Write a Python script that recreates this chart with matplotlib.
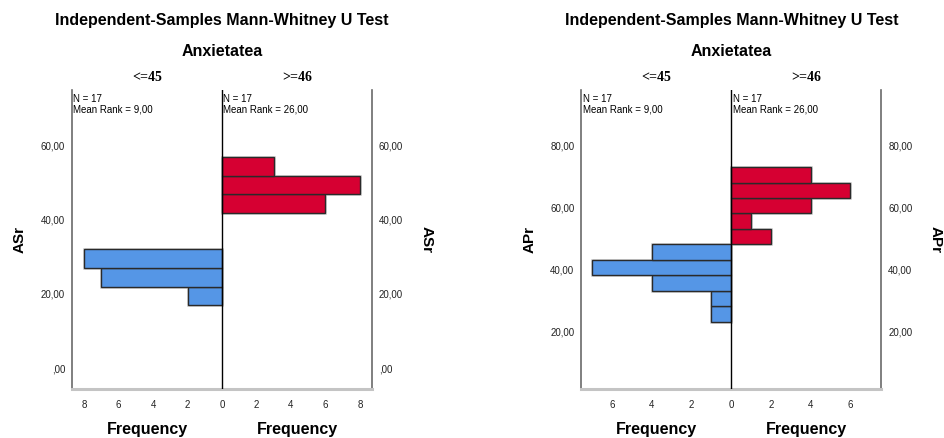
import matplotlib
matplotlib.use('Agg')
import matplotlib.pyplot as plt

# Bin edges (lower..upper) and counts for each group
as_low_edges = [16.9, 21.95, 26.95, 32.0]
as_low_counts = [2, 7, 8]
as_high_edges = [41.7, 46.8, 51.85, 56.9]
as_high_counts = [6, 8, 3]

ap_low_edges = [23, 28, 33, 38, 43, 48]
ap_low_counts = [1, 1, 4, 7, 4]
ap_high_edges = [48, 53, 58, 63, 68, 73]
ap_high_counts = [2, 1, 4, 6, 4]

groups = ['<=45', '>=46']
n_text = ['N = 17\nMean Rank = 9,00', 'N = 17\nMean Rank = 26,00']

as_yticks = [0, 20, 40, 60]
ap_yticks = [20, 40, 60, 80]

BLUE = '#5596e6'
RED = '#d60032'
SANS = 'Liberation Sans'


def fmt(v):
    s = f'{v:.2f}'.replace('.', ',')
    return s[1:] if s.startswith('0') else s


def draw_bars(ax, edges, counts, color, sign):
    ys = edges[:-1]
    hs = [b - a for a, b in zip(edges[:-1], edges[1:])]
    ws = [sign * c for c in counts]
    ax.barh(ys, ws, height=hs, align='edge', color=color,
            edgecolor='#d4d4d4', linewidth=2.0, zorder=2)
    ax.barh(ys, ws, height=hs, align='edge', color=color,
            edgecolor='#2a2a2a', linewidth=1.0, zorder=3)


def pyramid(fig, left, var, low_e, low_c, high_e, high_c, yticks, ylim, xmax, xticks):
    ax = fig.add_axes([left, 0.1126, 0.3178, 0.682])
    draw_bars(ax, low_e, low_c, BLUE, -1)
    draw_bars(ax, high_e, high_c, RED, 1)
    ax.set_xlim(-xmax, xmax)
    ax.set_ylim(*ylim)
    ax.axvline(0, color='black', linewidth=1.0, zorder=4)

    ax.spines['top'].set_visible(False)
    for s in ('left', 'right'):
        ax.spines[s].set_color('#6a6a6a')
        ax.spines[s].set_linewidth(1.2)
    ax.spines['bottom'].set_color('#c4c4c4')
    ax.spines['bottom'].set_linewidth(2.2)

    ax.set_xticks(xticks)
    ax.set_xticklabels([str(abs(t)) for t in xticks], fontsize=7, family=SANS)
    ax.set_yticks(yticks)
    ax.set_yticklabels([fmt(t) for t in yticks], fontsize=7, family=SANS)
    ax.tick_params(axis='both', length=0, colors='#222222')
    ax.tick_params(axis='x', pad=8)
    ax.tick_params(axis='y', pad=5, labelright=True)

    ax.set_ylabel(var, fontsize=11, fontweight='bold', family=SANS, labelpad=10)
    ax2 = ax.secondary_yaxis('right')
    ax2.set_yticks([])
    ax2.spines['right'].set_visible(False)
    ax2.set_ylabel(var, fontsize=11, fontweight='bold', family=SANS,
                   rotation=-90, labelpad=44)

    for i, x in enumerate([0.25, 0.75]):
        ax.text(x, 1.02, groups[i], transform=ax.transAxes, ha='center',
                va='bottom', fontsize=10, fontweight='bold', family='Liberation Serif')
        ax.text(x, -0.112, 'Frequency', transform=ax.transAxes, ha='center',
                va='top', fontsize=11.5, fontweight='bold', family=SANS)
        ax.text(x - 0.246, 0.985, n_text[i], transform=ax.transAxes, ha='left',
                va='top', fontsize=7, family=SANS, linespacing=0.95)

    ax.text(0.5, 1.13, 'Anxietatea', transform=ax.transAxes, ha='center',
            va='center', fontsize=11.5, fontweight='bold', family=SANS)
    ax.text(0.5, 1.234, 'Independent-Samples Mann-Whitney U Test',
            transform=ax.transAxes, ha='center', va='center', fontsize=11.5,
            family=SANS, fontweight='bold')
    return ax


fig = plt.figure(figsize=(9.44, 4.38), dpi=100)
pyramid(fig, 0.0763, 'ASr', as_low_edges, as_low_counts, as_high_edges,
        as_high_counts, as_yticks, (-5.5, 74.9), 8.7, [-8, -6, -4, -2, 0, 2, 4, 6, 8])
pyramid(fig, 0.6158, 'APr', ap_low_edges, ap_low_counts, ap_high_edges,
        ap_high_counts, ap_yticks, (1.4, 97.9), 7.56, [-6, -4, -2, 0, 2, 4, 6])

fig.savefig('out.png', dpi=100)
